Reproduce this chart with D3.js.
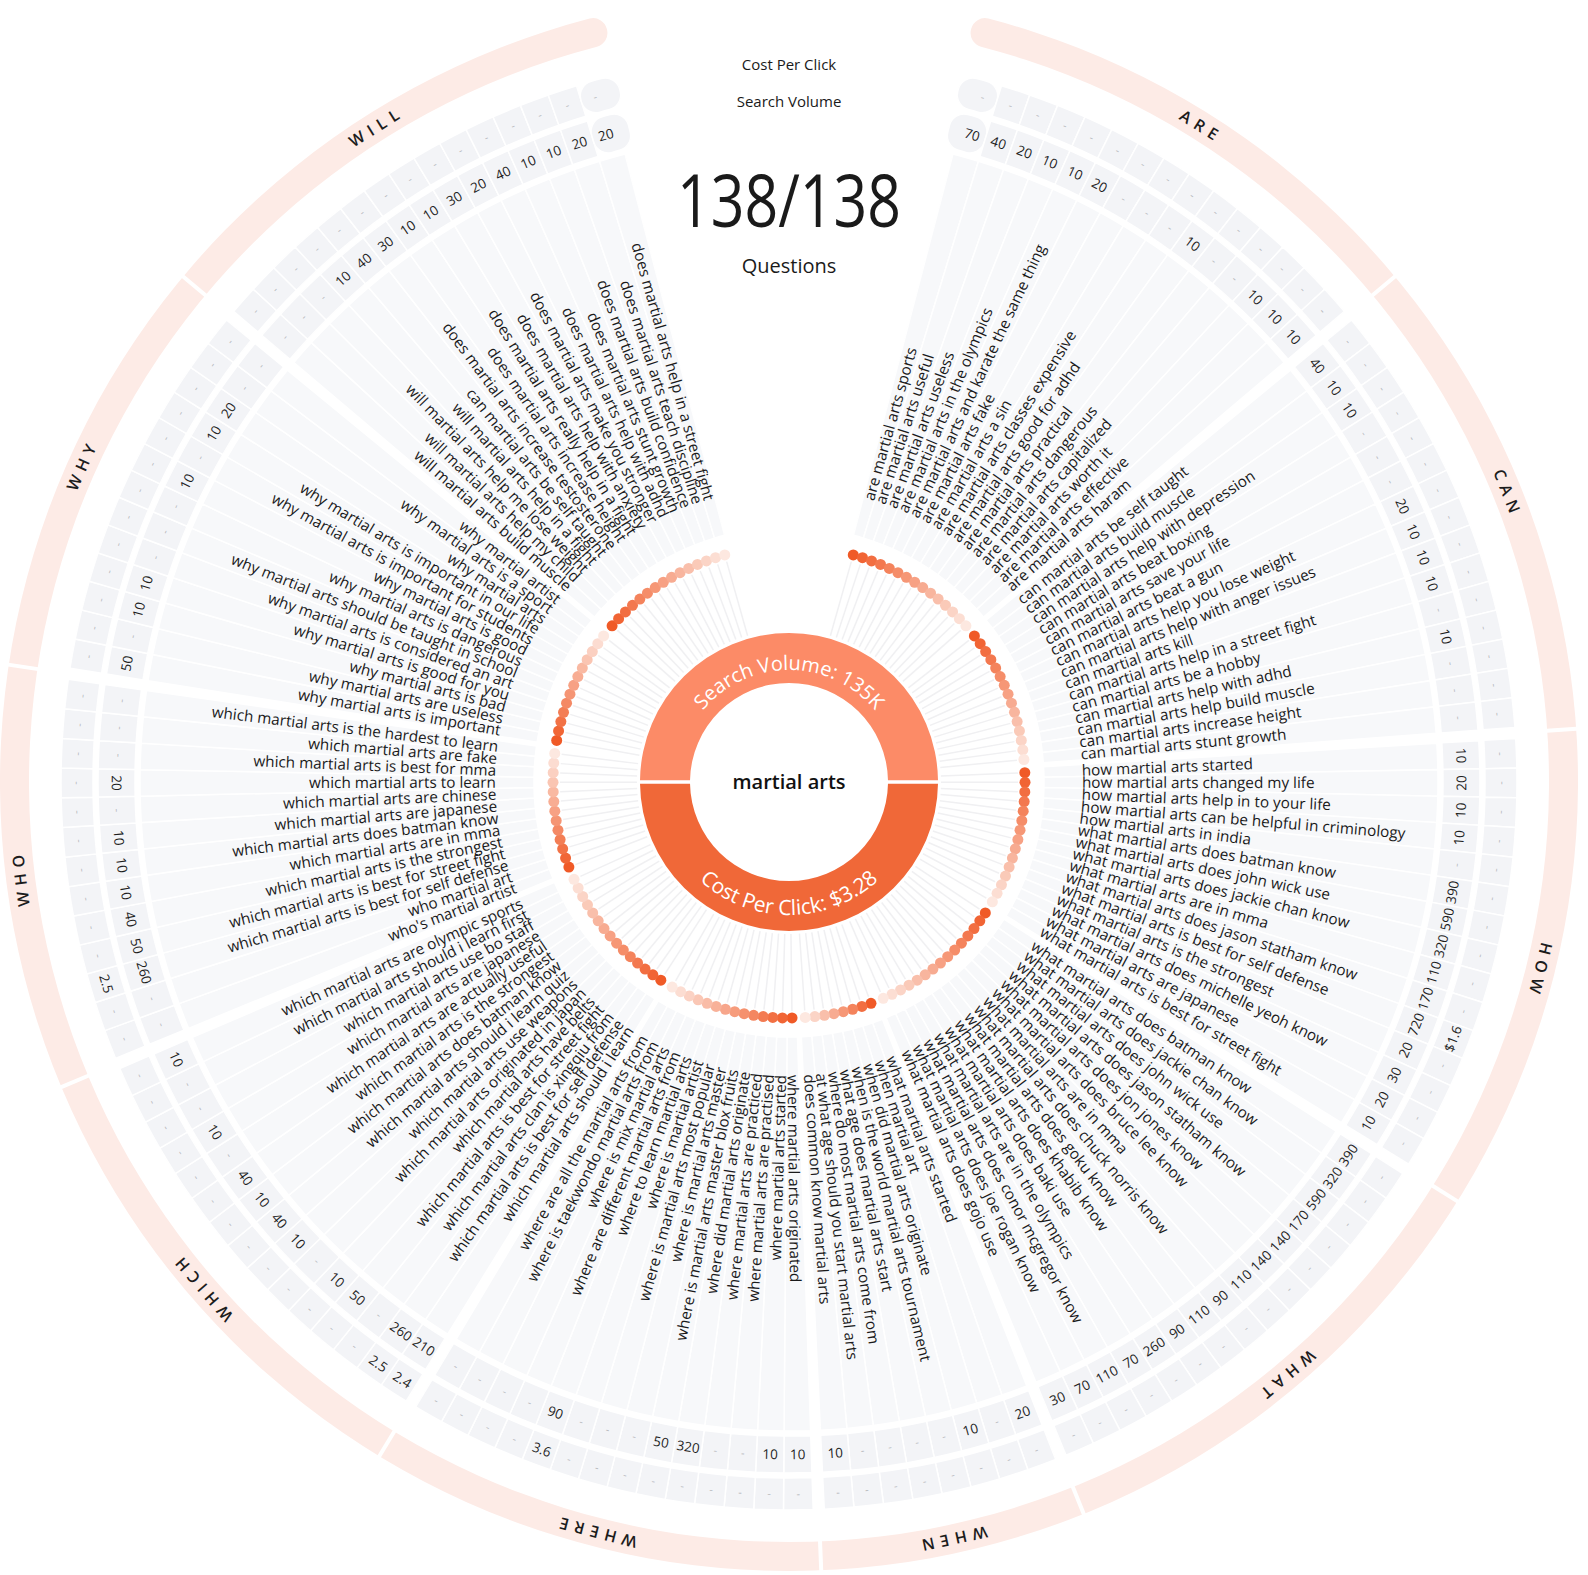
<!DOCTYPE html>
<html>
<head>
<meta charset="utf-8">
<script src="https://cdn.jsdelivr.net/npm/d3@7"></script>
<style>
  body { margin: 0; background: #fff; }
  svg { display: block; font-family: "Open Sans", sans-serif; }
</style>
</head>
<body>
<svg id="chart"></svg>
<script>
// ---- data (clockwise from the top) ----

const GROUPS = ['ARE', 'CAN', 'HOW', 'WHAT', 'WHEN', 'WHERE', 'WHICH', 'WHO', 'WHY', 'WILL']

const ARE_Q = ['are martial arts sports', 'are martial arts useful', 'are martial arts useless', 'are martial arts in the olympics',
  'are martial arts and karate the same thing', 'are martial arts fake', 'are martial arts a sin', 'are martial arts classes expensive',
  'are martial arts good for adhd', 'are martial arts practical', 'are martial arts dangerous', 'are martial arts capitalized',
  'are martial arts worth it', 'are martial arts effective', 'are martial arts haram']
const ARE_SV = [70, 40, 20, 10, 10, 20, null, null, null, 10, null, null, 10, 10, 10]
const ARE_CPC = [null, null, null, null, null, null, null, null, null, null, null, null, null, null, null]

const CAN_Q = ['can martial arts be self taught', 'can martial arts build muscle', 'can martial arts help with depression',
  'can martial arts beat boxing', 'can martial arts save your life', 'can martial arts beat a gun', 'can martial arts help you lose weight',
  'can martial arts help with anger issues', 'can martial arts kill', 'can martial arts help in a street fight', 'can martial arts be a hobby',
  'can martial arts help with adhd', 'can martial arts help build muscle', 'can martial arts increase height', 'can martial arts stunt growth']
const CAN_SV = [40, 10, 10, null, null, null, 20, 10, 10, 10, null, 10, null, null, null]
const CAN_CPC = [null, null, null, null, null, null, null, null, null, null, null, null, null, null, null]

const HOW_Q = ['how martial arts started', 'how martial arts changed my life', 'how martial arts help in to your life',
  'how martial arts can be helpful in criminology', 'how martial arts in india', 'what martial arts does batman know',
  'what martial arts does john wick use', 'what martial arts does jackie chan know', 'what martial arts are in mma',
  'what martial arts does jason statham know', 'what martial arts is best for self defense', 'what martial arts is the strongest',
  'what martial arts does michelle yeoh know', 'what martial arts are japanese', 'what martial arts is best for street fight']
const HOW_SV = [10, 20, 10, 10, null, 390, 590, 320, 110, 170, 720, 20, 30, 20, 10]
const HOW_CPC = [null, null, null, null, null, null, null, null, null, null, '$1.6', null, null, null, null]

const WHAT_Q = ['what martial arts does batman know', 'what martial arts does jackie chan know', 'what martial arts does john wick use',
  'what martial arts does jason statham know', 'what martial arts does jon jones know', 'what martial arts does bruce lee know',
  'what martial arts are in mma', 'what martial arts does chuck norris know', 'what martial arts does goku know',
  'what martial arts does khabib know', 'what martial arts does baki use', 'what martial arts are in the olympics',
  'what martial arts does conor mcgregor know', 'what martial arts does joe rogan know', 'what martial arts does gojo use']
const WHAT_SV = [390, 320, 590, 170, 140, 140, 110, 90, 110, 90, 260, 70, 110, 70, 30]
const WHAT_CPC = [null, null, null, null, null, null, null, null, null, null, null, null, null, null, null]

const WHEN_Q = ['what martial arts started', 'when martial art', 'when did martial arts originate',
  'when is the world martial arts tournament', 'what age does martial arts start', 'where do most martial arts come from',
  'at what age should you start martial arts', 'does common know martial arts']
const WHEN_SV = [20, null, 10, null, null, null, null, 10]
const WHEN_CPC = [null, null, null, null, null, null, null, null]

const WHERE_Q = ['where martial arts originated', 'where martial arts started', 'where martial arts are practised',
  'where martial arts are practiced', 'where did martial arts originate', 'where is martial arts master blox fruits',
  'where is martial arts master', 'where is martial arts most popular', 'where is martial artist', 'where to learn martial arts',
  'where are different martial arts from', 'where is mix martial arts', 'where is taekwondo martial arts from',
  'where are all the martial arts from']
const WHERE_SV = [10, 10, null, null, 320, 50, null, null, null, 90, null, null, null, null]
const WHERE_CPC = [null, null, null, null, null, null, null, null, null, '3.6', null, null, null, null]

const WHICH_Q = ['which martial arts should i learn', 'which martial arts is best for self defense', 'which martial arts clan is xingqiu from',
  'which martial arts is best for street fight', 'which martial arts have belts', 'which martial arts originated in japan',
  'which martial arts use weapons', 'which martial arts should i learn quiz', 'which martial arts does batman know',
  'which martial arts is the strongest', 'which martial arts are actually useful', 'which martial arts are japanese',
  'which martial arts use bo staff', 'which martial arts should i learn first', 'which martial arts are olympic sports']
const WHICH_SV = [210, 260, null, 50, 10, null, 10, 40, 10, 40, null, 10, null, null, 10]
const WHICH_CPC = ['2.4', '2.5', null, null, null, null, null, null, null, null, null, null, null, null, null]

const WHO_Q = ["who's martial artist", 'who martial art', 'which martial arts is best for self defense',
  'which martial arts is best for street fight', 'which martial arts is the strongest', 'which martial arts are in mma',
  'which martial arts does batman know', 'which martial arts are japanese', 'which martial arts are chinese',
  'which martial arts to learn', 'which martial arts is best for mma', 'which martial arts are fake',
  'which martial arts is the hardest to learn']
const WHO_SV = [null, null, 260, 50, 40, 10, 10, 10, null, 20, null, null, null]
const WHO_CPC = [null, null, '2.5', null, null, null, null, null, null, null, null, null, null]

const WHY_Q = ['why martial arts is important', 'why martial arts are useless', 'why martial arts is bad', 'why martial arts is good for you',
  'why martial arts is considered an art', 'why martial arts should be taught in school', 'why martial arts is dangerous',
  'why martial arts is good', 'why martial arts is important for students', 'why martial arts is important in our life',
  'why martial arts', 'why martial arts is a sport', 'why martial artist']
const WHY_SV = [50, null, 10, 10, null, null, null, 10, null, 10, 20, null, null]
const WHY_CPC = [null, null, null, null, null, null, null, null, null, null, null, null, null]

const WILL_Q = ['will martial arts build muscle', 'will martial arts help my child', 'will martial arts help me lose weight',
  'will martial arts help in a fight', 'can martial arts be self taught', 'does martial arts increase testosterone',
  'does martial arts increase height', 'does martial arts really help in a fight', 'does martial arts help with anxiety',
  'does martial arts make you stronger', 'does martial arts help with adhd', 'does martial arts stunt growth',
  'does martial arts build confidence', 'does martial arts teach discipline', 'does martial arts help in a street fight']
const WILL_SV = [null, null, null, 10, 40, 30, 10, 10, 30, 20, 40, 10, 10, 20, 20]
const WILL_CPC = [null, null, null, null, null, null, null, null, null, null, null, null, null, null, null]

const KEYWORD = 'martial arts'
const TOTAL_VOLUME = 'Search Volume: 135K'
const TOTAL_CPC = 'Cost Per Click: $3.28'
const COUNT_LABEL = '138/138'

// ---- layout ----

const W = 1588, H = 1575
const CX = 789, CY = 782
const START_DEG = 14.63          // half of the empty wedge at 12 o'clock
const GAP_SLOTS = 0.372          // extra space between groups, in question widths
const RING_END_DEG = 13.6        // the outer group band reaches a little further into the gap
const CAP_DEG = 0.9              // rounded end cells of the value rings stick out a bit

const R = {
  spoke: [152, 229], dot: 236, label: 293,
  wedge: [255, 649], volume: [654, 691], cpc: [696, 728], group: [760, 789]
}

const tables = {
  ARE: [ARE_Q, ARE_SV, ARE_CPC], CAN: [CAN_Q, CAN_SV, CAN_CPC], HOW: [HOW_Q, HOW_SV, HOW_CPC],
  WHAT: [WHAT_Q, WHAT_SV, WHAT_CPC], WHEN: [WHEN_Q, WHEN_SV, WHEN_CPC], WHERE: [WHERE_Q, WHERE_SV, WHERE_CPC],
  WHICH: [WHICH_Q, WHICH_SV, WHICH_CPC], WHO: [WHO_Q, WHO_SV, WHO_CPC], WHY: [WHY_Q, WHY_SV, WHY_CPC],
  WILL: [WILL_Q, WILL_SV, WILL_CPC]
}

// flatten into one list of questions with a slot position each
let items = [], groups = [], p = 0
GROUPS.forEach((name, gi) => {
  if (gi > 0) p += GAP_SLOTS
  let [qs, sv, cpc] = tables[name]
  let g0 = p
  qs.forEach((q, i) => {
    items.push({ group: name, i: i, n: qs.length, q: q, sv: sv[i], cpc: cpc[i], p0: p, p1: p + 1 })
    p += 1
  })
  groups.push({ name: name, p0: g0, p1: p })
})
const TOTAL = p

const angle = d3.scaleLinear().domain([0, TOTAL]).range([START_DEG, 360 - START_DEG])
const rad = (d) => d * Math.PI / 180
const dotColor = d3.scaleLinear().domain([0, 1]).range(['#f05a27', '#fde8e0']).interpolate(d3.interpolateRgb)

items.forEach((d) => {
  d.a0 = angle(d.p0); d.a1 = angle(d.p1); d.a = (d.a0 + d.a1) / 2
})

const polar = (r, a) => [r * Math.sin(rad(a)), -r * Math.cos(rad(a))]

// ---- drawing ----

const svg = d3.select('#chart').attr('width', W).attr('height', H)
const g = svg.append('g').attr('transform', 'translate(' + [CX, CY] + ')')

// outer group band
g.append('path')
  .attr('d', d3.arc().innerRadius(R.group[0]).outerRadius(R.group[1]).cornerRadius(14)
    ({ startAngle: rad(RING_END_DEG), endAngle: rad(360 - RING_END_DEG) }))
  .attr('fill', '#fdebe6')

g.selectAll('.group-sep')
  .data(groups.slice(1))
  .enter().append('line')
    .attr('class', 'group-sep')
    .attr('x1', (d) => polar(R.group[0] - 4, angle(d.p0 - GAP_SLOTS / 2))[0])
    .attr('y1', (d) => polar(R.group[0] - 4, angle(d.p0 - GAP_SLOTS / 2))[1])
    .attr('x2', (d) => polar(R.group[1] + 4, angle(d.p0 - GAP_SLOTS / 2))[0])
    .attr('y2', (d) => polar(R.group[1] + 4, angle(d.p0 - GAP_SLOTS / 2))[1])
    .attr('stroke', '#fff')
    .attr('stroke-width', 4)

g.selectAll('.group-label')
  .data(groups)
  .enter().append('text')
    .attr('class', 'group-label')
    .attr('transform', (d) => {
      let a = angle((d.p0 + d.p1) / 2)
      return 'translate(' + polar((R.group[0] + R.group[1]) / 2, a) + ') rotate(' + a + ')'
    })
    .attr('text-anchor', 'middle')
    .attr('dy', '0.36em')
    .attr('font-size', 16)
    .attr('font-weight', 600)
    .attr('letter-spacing', 6)
    .attr('fill', '#1c1c1c')
    .text((d) => d.name)

// wedge behind each question
const wedge = d3.arc().innerRadius(R.wedge[0]).outerRadius(R.wedge[1])
g.selectAll('.wedge')
  .data(items)
  .enter().append('path')
    .attr('class', 'wedge')
    .attr('d', (d) => wedge({ startAngle: rad(d.a0), endAngle: rad(d.a1) }))
    .attr('fill', '#f7f8fa')
    .attr('stroke', '#fff')
    .attr('stroke-width', 1.5)

// value rings: search volume (inner) and cost per click (outer)
function ring(key, radii) {
  let arc = d3.arc().innerRadius(radii[0]).outerRadius(radii[1])
  let round = d3.arc().innerRadius(radii[0]).outerRadius(radii[1]).cornerRadius(15)
  let last = items.length - 1
  g.selectAll('.cell-' + key)
    .data(items)
    .enter().append('path')
      .attr('class', 'cell-' + key)
      .attr('d', (d, i) => {
        if (i === 0) return round({ startAngle: rad(d.a0 - CAP_DEG), endAngle: rad(d.a1) })
        if (i === last) return round({ startAngle: rad(d.a0), endAngle: rad(d.a1 + CAP_DEG) })
        return arc({ startAngle: rad(d.a0), endAngle: rad(d.a1) })
      })
      .attr('fill', '#f3f4f7')
      .attr('stroke', '#fff')
      .attr('stroke-width', 1.5)

  g.selectAll('.val-' + key)
    .data(items)
    .enter().append('text')
      .attr('class', 'val-' + key)
      .attr('transform', (d) => {
        let flip = d.a > 90 && d.a < 270
        return 'translate(' + polar((radii[0] + radii[1]) / 2, d.a) + ') rotate(' + (flip ? d.a + 180 : d.a) + ')'
      })
      .attr('text-anchor', 'middle')
      .attr('dy', '0.35em')
      .attr('font-size', (d) => d[key] == null ? 11 : 13.5)
      .attr('fill', (d) => d[key] == null ? '#b9bbbf' : '#1e1e1e')
      .text((d) => d[key] == null ? '-' : d[key])
}
ring('sv', R.volume)
ring('cpc', R.cpc)

// spokes and dots
g.selectAll('.spoke')
  .data(items)
  .enter().append('line')
    .attr('class', 'spoke')
    .attr('x1', (d) => polar(R.spoke[0], d.a)[0])
    .attr('y1', (d) => polar(R.spoke[0], d.a)[1])
    .attr('x2', (d) => polar(R.spoke[1], d.a)[0])
    .attr('y2', (d) => polar(R.spoke[1], d.a)[1])
    .attr('stroke', '#f0f0f2')
    .attr('stroke-width', 1.5)

g.selectAll('.dot')
  .data(items)
  .enter().append('circle')
    .attr('class', 'dot')
    .attr('cx', (d) => polar(R.dot, d.a)[0])
    .attr('cy', (d) => polar(R.dot, d.a)[1])
    .attr('r', 5.5)
    .attr('fill', (d) => dotColor(d.n > 1 ? d.i / (d.n - 1) : 0))

// question labels, reading outward on the right and inward on the left
g.selectAll('.question')
  .data(items)
  .enter().append('text')
    .attr('class', 'question')
    .attr('transform', (d) => d.a < 180
      ? 'rotate(' + (d.a - 90) + ') translate(' + R.label + ',0)'
      : 'rotate(' + (d.a + 90) + ') translate(' + (-R.label) + ',0)')
    .attr('text-anchor', (d) => d.a < 180 ? 'start' : 'end')
    .attr('dy', '0.35em')
    .attr('font-size', 15.3)
    .attr('fill', '#1a1a1a')
    .text((d) => d.q)

// centre donut
const donut = d3.arc().innerRadius(99).outerRadius(149).padAngle(0.02)
g.append('path').attr('d', donut({ startAngle: -Math.PI / 2, endAngle: Math.PI / 2 })).attr('fill', '#fc8b67')
g.append('path').attr('d', donut({ startAngle: Math.PI / 2, endAngle: 3 * Math.PI / 2 })).attr('fill', '#f06838')

const defs = svg.append('defs')
defs.append('path').attr('id', 'arc-top').attr('d', 'M' + (CX - 112) + ',' + CY + ' A112,112 0 0 1 ' + (CX + 112) + ',' + CY)
defs.append('path').attr('id', 'arc-bottom').attr('d', 'M' + (CX - 133) + ',' + CY + ' A133,133 0 0 0 ' + (CX + 133) + ',' + CY)

svg.append('text')
    .attr('font-size', 20).attr('fill', '#fff')
  .append('textPath').attr('href', '#arc-top').attr('startOffset', '50%').attr('text-anchor', 'middle')
    .text(TOTAL_VOLUME)
svg.append('text')
    .attr('font-size', 21).attr('fill', '#fff')
  .append('textPath').attr('href', '#arc-bottom').attr('startOffset', '50%').attr('text-anchor', 'middle')
    .text(TOTAL_CPC)

g.append('text')
  .attr('text-anchor', 'middle').attr('dy', '0.35em')
  .attr('font-size', 20).attr('font-weight', 600).attr('fill', '#111')
  .text(KEYWORD)

// header
const header = svg.append('g').attr('text-anchor', 'middle').attr('fill', '#1a1a1a')
header.append('text').attr('x', CX).attr('y', 70).attr('font-size', 15).text('Cost Per Click')
header.append('text').attr('x', CX).attr('y', 107).attr('font-size', 15).text('Search Volume')
header.append('text').attr('x', CX).attr('y', 227).attr('font-size', 74)
  .attr('textLength', 224).attr('lengthAdjust', 'spacingAndGlyphs').text(COUNT_LABEL)
header.append('text').attr('x', CX).attr('y', 273).attr('font-size', 20).text('Questions')
</script>
</body>
</html>
